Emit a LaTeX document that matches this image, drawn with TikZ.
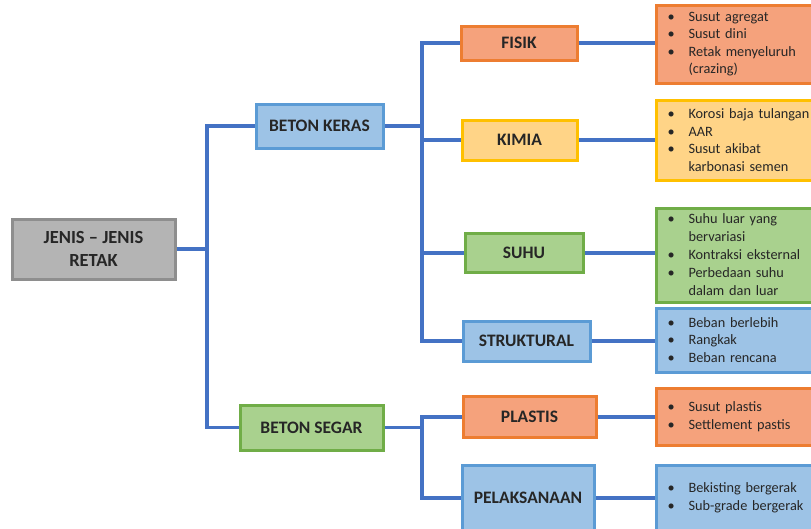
\documentclass[tikz,border=0pt]{standalone}
\usepackage{fontspec}
\setmainfont{Carlito}
\definecolor{conn}{HTML}{4472C4}
\definecolor{grayF}{HTML}{B4B4B4}\definecolor{grayD}{HTML}{8E8E8E}
\definecolor{blueF}{HTML}{9DC3E6}\definecolor{blueD}{HTML}{5B9BD5}
\definecolor{orF}{HTML}{F5A27C}\definecolor{orD}{HTML}{ED7D31}
\definecolor{yeF}{HTML}{FFD487}\definecolor{yeD}{HTML}{FFC000}
\definecolor{grF}{HTML}{A9D18E}\definecolor{grD}{HTML}{70AD47}
\definecolor{txt}{HTML}{262626}
\newcommand{\bl}[1]{\makebox[21pt][l]{\textbullet}#1}
\newcommand{\cl}[1]{\hspace*{21pt}#1}
\begin{document}
\begin{tikzpicture}[x=1pt,y=-1pt,
  box/.style={draw, line width=3pt, inner sep=0pt, font=\fontsize{17.5}{22}\selectfont\bfseries, text=txt, align=center},
  listbox/.style={draw, line width=3pt, anchor=west, minimum width=170pt, text width=148pt, inner xsep=11pt, inner ysep=0pt, align=left, text=txt, font=\fontsize{14.3}{17.6}\selectfont},
  cn/.style={draw=conn, line width=3.6pt},
  gray/.style={fill=grayF, draw=grayD},
  blue/.style={fill=blueF, draw=blueD},
  ora/.style={fill=orF, draw=orD},
  yel/.style={fill=yeF, draw=yeD},
  gre/.style={fill=grF, draw=grD}]
\useasboundingbox (0,0) rectangle (811,528);
% main nodes
\node[box,gray,minimum width=163pt,minimum height=60pt,font=\fontsize{18.5}{23}\selectfont\bfseries] (root) at (93.5,249) {JENIS -- JENIS\\RETAK};
\node[box,blue,minimum width=127pt,minimum height=44pt] (keras) at (319.5,126) {BETON KERAS};
\node[box,gre,minimum width=143pt,minimum height=45pt] (segar) at (311.5,427.5) {BETON SEGAR};
\node[box,ora,minimum width=116pt,minimum height=34pt] (fisik) at (519,43) {FISIK};
\node[box,yel,minimum width=115pt,minimum height=40pt] (kimia) at (519.5,140) {KIMIA};
\node[box,gre,minimum width=118pt,minimum height=39pt] (suhu) at (524,253) {SUHU};
\node[box,blue,minimum width=127pt,minimum height=40pt] (struk) at (526.5,341) {STRUKTURAL};
\node[box,ora,minimum width=133pt,minimum height=41pt] (plastis) at (529.5,417) {PLASTIS};
\node[box,blue,minimum width=132pt,minimum height=66pt] (pelak) at (528,498) {PELAKSANAAN};
% list boxes
\node[listbox,ora,minimum height=78pt] (fisikL) at (655,44) {\bl{Susut agregat}\\\bl{Susut dini}\\\bl{Retak menyeluruh}\\\cl{(crazing)}};
\node[listbox,yel,minimum height=80pt] (kimiaL) at (655,140) {\bl{Korosi baja tulangan}\\\bl{AAR}\\\bl{Susut akibat}\\\cl{karbonasi semen}};
\node[listbox,gre,minimum height=94pt,font=\fontsize{14.3}{18}\selectfont] (suhuL) at (655,255) {\bl{Suhu luar yang}\\\cl{bervariasi}\\\bl{Kontraksi eksternal}\\\bl{Perbedaan suhu}\\\cl{dalam dan luar}};
\node[listbox,blue,minimum height=64pt] (strukL) at (655,340) {\bl{Beban berlebih}\\\bl{Rangkak}\\\bl{Beban rencana}};
\node[listbox,ora,minimum height=57pt] (plastisL) at (655,416.5) {\bl{Susut plastis}\\\bl{Settlement pastis}};
\node[listbox,blue,minimum height=66pt] (pelakL) at (655,498) {\bl{Bekisting bergerak}\\\bl{Sub-grade bergerak}};
% junction coordinates
\coordinate (j0) at (207,249);
\coordinate (j1) at (422,126);
\coordinate (j2) at (422,427.5);
% connectors level 1
\draw[cn] (root.east) -- (j0);
\draw[cn,line cap=rect] (j0 |- keras.west) -- (j0 |- segar.west);
\draw[cn] (j0 |- keras.west) -- (keras.west);
\draw[cn] (j0 |- segar.west) -- (segar.west);
% BETON KERAS branch
\draw[cn] (keras.east) -- (j1);
\draw[cn,line cap=rect] (j1 |- fisik.west) -- (j1 |- struk.west);
\foreach \n in {fisik,kimia,suhu,struk} \draw[cn] (j1 |- \n.west) -- (\n.west);
% BETON SEGAR branch
\draw[cn] (segar.east) -- (j2);
\draw[cn,line cap=rect] (j2 |- plastis.west) -- (j2 |- pelak.west);
\foreach \n in {plastis,pelak} \draw[cn] (j2 |- \n.west) -- (\n.west);
% to lists
\foreach \n in {fisik,kimia,suhu,struk,plastis,pelak} \draw[cn] (\n.east) -- (\n.east -| \n L.west);
\end{tikzpicture}
\end{document}
